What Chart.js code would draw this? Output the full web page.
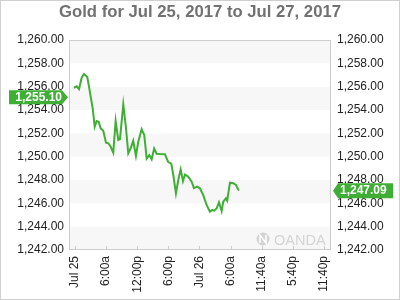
<!DOCTYPE html>
<html>
<head>
<meta charset="utf-8">
<script src="https://cdn.jsdelivr.net/npm/chart.js@4"></script>
<style>
  html, body { margin: 0; padding: 0; background: #fff; }
  #wrap { width: 400px; height: 300px; }
</style>
</head>
<body>
<div id="wrap"><canvas id="gold-chart" width="400" height="300"></canvas></div>
<script>
// Hours since Jul 25 00:00 and gold price
const hours = [-0.2, 0.33, 0.77, 1.29, 1.73, 2.37, 2.76, 3.08, 3.41, 3.80, 4.18, 4.57, 4.95, 5.45, 5.98, 6.42,
  6.88, 7.38, 7.84, 8.34, 8.67, 9.31, 9.83, 10.27, 10.73, 11.23, 11.75, 12.20, 12.85, 13.35, 13.82, 14.32,
  14.78, 15.26, 15.74, 16.38, 17.34, 17.98, 18.56, 18.95, 19.46, 19.91, 20.37, 20.82, 21.20, 21.84, 22.49,
  22.93, 23.57, 24.08, 24.72, 25.37, 26.01, 26.46, 26.84, 27.30, 27.75, 28.27, 28.58, 29.09, 29.34, 29.87,
  30.50, 31.02, 31.60];
const prices = [1255.91, 1256.03, 1255.80, 1256.77, 1257.09, 1256.83, 1255.86, 1255.00, 1254.17, 1252.57,
  1253.06, 1253.00, 1252.43, 1252.23, 1251.20, 1251.15, 1250.85, 1250.34, 1253.06, 1251.43, 1251.51,
  1254.49, 1252.46, 1250.29, 1250.72, 1251.37, 1250.06, 1251.28, 1252.35, 1251.86, 1249.84, 1250.14,
  1249.78, 1250.70, 1250.25, 1250.23, 1250.21, 1249.54, 1249.40, 1248.43, 1246.86, 1248.00, 1248.90,
  1247.90, 1248.47, 1248.28, 1247.85, 1247.31, 1247.43, 1247.29, 1246.71, 1245.86, 1245.28, 1245.43,
  1245.37, 1245.57, 1246.09, 1245.34, 1246.14, 1246.43, 1246.23, 1247.77, 1247.72, 1247.57, 1247.09];

const tickHours = [0, 6, 12, 18, 24, 30, 36, 42, 48];
const tickLabels = ['Jul 25', '6:00a', '12:00p', '6:00p', 'Jul 26', '6:00a', '11:40a', '5:40p', '11:40p'];

const openPrice = 1255.10;
const lastPrice = 1247.09;

const GREEN = '#3fae35';
const FONT = '"Liberation Sans", Arial, sans-serif';

const fmt = (v) => v.toLocaleString('en-US', { minimumFractionDigits: 2, maximumFractionDigits: 2 });

// bands, frame, watermark, price flags
const decorPlugin = {
  id: 'decor',
  beforeDatasetsDraw(chart) {
    const { ctx, chartArea: a, scales } = chart;
    const y = scales.y;
    ctx.save();
    // alternating light bands
    ctx.fillStyle = '#f7f7f7';
    for (let v = 1260; v > 1242; v -= 4) {
      const t = y.getPixelForValue(v);
      const b = y.getPixelForValue(v - 2);
      ctx.fillRect(a.left, t, a.right - a.left, b - t);
    }
    // watermark
    ctx.fillStyle = '#d4d4d4';
    ctx.beginPath();
    ctx.arc(a.right - 68, a.bottom - 11, 6.5, 0, Math.PI * 2);
    ctx.fill();
    ctx.strokeStyle = '#fff';
    ctx.lineWidth = 1.5;
    ctx.beginPath();
    ctx.moveTo(a.right - 71, a.bottom - 7);
    ctx.lineTo(a.right - 71, a.bottom - 15);
    ctx.lineTo(a.right - 65, a.bottom - 7);
    ctx.lineTo(a.right - 65, a.bottom - 15);
    ctx.stroke();
    ctx.fillStyle = '#d4d4d4';
    ctx.font = '14.5px ' + FONT;
    ctx.textAlign = 'left';
    ctx.textBaseline = 'alphabetic';
    ctx.fillText('OANDA', a.right - 57, a.bottom - 5);
    ctx.restore();
  },
  afterDraw(chart) {
    const { ctx, chartArea: a, scales } = chart;
    ctx.save();
    // outer border
    ctx.strokeStyle = '#cfcfcf';
    ctx.lineWidth = 1;
    ctx.strokeRect(0.5, 0.5, chart.width - 1, chart.height - 1);
    // plot frame
    ctx.strokeStyle = '#cccccc';
    ctx.strokeRect(a.left - 0.5, a.top + 0.5, a.right - a.left, a.bottom - a.top - 1);
    // small tick marks inside bottom edge
    scales.x.ticks.forEach((t) => {
      const px = Math.round(scales.x.getPixelForValue(t.value)) + 0.5;
      ctx.beginPath();
      ctx.moveTo(px, a.bottom);
      ctx.lineTo(px, a.bottom - 4);
      ctx.stroke();
    });

    // price flags
    const y = scales.y;
    ctx.font = 'bold 12px ' + FONT;
    ctx.textBaseline = 'middle';
    ctx.fillStyle = GREEN;
    // left flag (pointing right)
    let cy = y.getPixelForValue(openPrice);
    let h = 14;
    ctx.beginPath();
    ctx.moveTo(9, cy - h / 2);
    ctx.lineTo(a.left - 8, cy - h / 2);
    ctx.lineTo(a.left - 2, cy);
    ctx.lineTo(a.left - 8, cy + h / 2);
    ctx.lineTo(9, cy + h / 2);
    ctx.closePath();
    ctx.fill();
    // right flag (pointing left)
    cy = y.getPixelForValue(lastPrice);
    h = 15;
    ctx.beginPath();
    ctx.moveTo(a.right + 2, cy);
    ctx.lineTo(a.right + 7, cy - h / 2);
    ctx.lineTo(393, cy - h / 2);
    ctx.lineTo(393, cy + h / 2);
    ctx.lineTo(a.right + 7, cy + h / 2);
    ctx.closePath();
    ctx.fill();

    ctx.fillStyle = '#ffffff';
    ctx.textAlign = 'right';
    ctx.fillText(fmt(openPrice), a.left - 8, y.getPixelForValue(openPrice) + 0.5);
    ctx.textAlign = 'left';
    ctx.fillText(fmt(lastPrice), a.right + 9, y.getPixelForValue(lastPrice) + 0.5);
    ctx.restore();
  }
};

const yTicks = {
  color: '#222',
  font: { family: FONT, size: 12 },
  padding: 6,
  stepSize: 2,
  callback: (v) => fmt(v)
};

new Chart(document.getElementById('gold-chart'), {
  type: 'line',
  data: {
    datasets: [{
      data: hours.map((h, i) => ({ x: h, y: prices[i] })),
      borderColor: GREEN,
      borderWidth: 2,
      pointRadius: 0,
      tension: 0,
      fill: false
    }]
  },
  options: {
    responsive: false,
    animation: false,
    devicePixelRatio: 1,
    layout: { padding: 0 },
    plugins: {
      legend: { display: false },
      tooltip: { enabled: false },
      title: {
        display: true,
        text: 'Gold for Jul 25, 2017 to Jul 27, 2017',
        color: '#717171',
        font: { family: FONT, size: 16.7, weight: 'bold' },
        padding: { top: 2, bottom: 18 }
      }
    },
    scales: {
      x: {
        type: 'linear',
        min: -0.96,
        max: 49.35,
        grid: { display: false, drawTicks: false },
        border: { display: false },
        afterBuildTicks: (scale) => { scale.ticks = tickHours.map((v) => ({ value: v })); },
        afterFit: (scale) => { scale.height = 50; },
        ticks: {
          color: '#222',
          font: { family: FONT, size: 12 },
          minRotation: 90,
          maxRotation: 90,
          padding: 6,
          autoSkip: false,
          callback: (v, i) => tickLabels[i]
        }
      },
      y: {
        position: 'left',
        min: 1242,
        max: 1260,
        grid: { display: false, drawTicks: false },
        border: { display: false },
        afterFit: (scale) => { scale.width = 70; },
        ticks: yTicks
      },
      y2: {
        position: 'right',
        min: 1242,
        max: 1260,
        grid: { display: false, drawTicks: false },
        border: { display: false },
        afterFit: (scale) => { scale.width = 69; },
        ticks: yTicks
      }
    }
  },
  plugins: [decorPlugin]
});
</script>
</body>
</html>
